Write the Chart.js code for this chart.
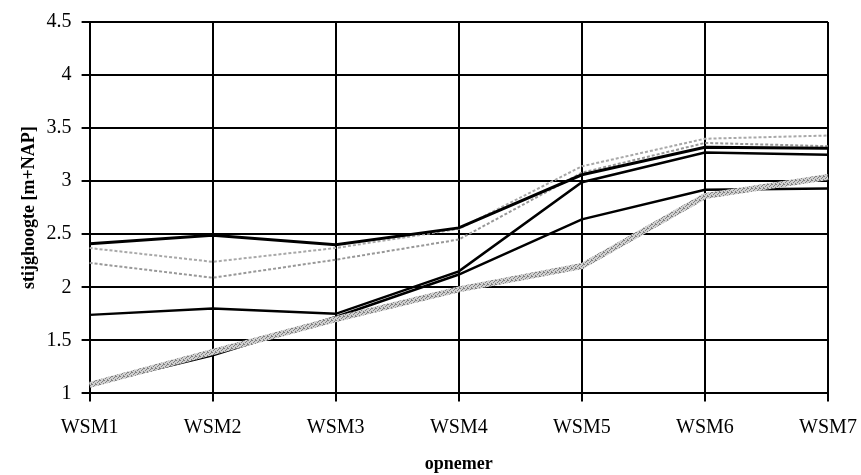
<!DOCTYPE html>
<html>
<head>
<meta charset="utf-8">
<script src="https://cdn.jsdelivr.net/npm/chart.js@4/dist/chart.umd.min.js"></script>
<style>
  html, body { margin: 0; padding: 0; background: #fff; }
  #wrap { width: 861px; height: 475px; }
</style>
</head>
<body>
<div id="wrap"><canvas id="chart"></canvas></div>
<script>
const categories = ['WSM1', 'WSM2', 'WSM3', 'WSM4', 'WSM5', 'WSM6', 'WSM7'];
const yTicks = [1, 1.5, 2, 2.5, 3, 3.5, 4, 4.5];
const yTickLabels = ['1', '1.5', '2', '2.5', '3', '3.5', '4', '4.5'];

const grayThick   = [1.08, 1.39, 1.70, 1.98, 2.20, 2.86, 3.04];
const blackTop    = [2.41, 2.49, 2.40, 2.56, 3.06, 3.32, 3.31];
const dottedUpper = [2.37, 2.24, 2.37, 2.55, 3.14, 3.40, 3.43];
const dottedLower = [2.23, 2.09, 2.26, 2.45, 3.08, 3.36, 3.33];
const blackMid    = [1.74, 1.80, 1.75, 2.15, 2.99, 3.27, 3.25];
const blackLow    = [1.08, 1.36, 1.72, 2.12, 2.64, 2.92, 2.93];

const serif = '"Liberation Serif", "Times New Roman", serif';

// speckled grey like the scanned thick line
function speckle() {
    const c = document.createElement('canvas');
    c.width = 4; c.height = 4;
    const g = c.getContext('2d');
    g.fillStyle = '#d0d0d0';
    g.fillRect(0, 0, 4, 4);
    g.fillStyle = '#808080';
    g.fillRect(0, 0, 1, 1); g.fillRect(2, 1, 1, 1); g.fillRect(1, 2, 1, 1); g.fillRect(3, 3, 1, 1);
    g.fillRect(3, 0, 1, 1);
    return g.createPattern(c, 'repeat');
}

function line(data, color, width, dash) {
    return {
        data: data,
        borderColor: color,
        borderWidth: width,
        borderDash: dash || [],
        pointRadius: 0,
        fill: false,
        tension: 0
    };
}

new Chart(document.getElementById('chart').getContext('2d'), {
    type: 'line',
    data: {
        labels: categories,
        datasets: [
            line(grayThick, speckle(), 6),
            line(blackTop, '#000', 3),
            line(dottedUpper, '#a8a8a8', 2, [3, 2]),
            line(dottedLower, '#989898', 2, [3, 2]),
            line(blackMid, '#000', 2.5),
            line(blackLow, '#000', 2.5)
        ]
    },
    options: {
        responsive: true,
        maintainAspectRatio: false,
        animation: false,
        layout: { padding: { top: 11, right: 0, left: 6, bottom: 0 } },
        plugins: {
            legend: { display: false },
            tooltip: { enabled: false }
        },
        scales: {
            x: {
                offset: false,
                afterFit: (s) => { s.paddingRight = 33; },
                border: { color: '#000', width: 2 },
                grid: { color: '#000', lineWidth: 2, tickLength: 8 },
                ticks: { color: '#000', padding: 14, maxRotation: 0, font: { family: serif, size: 20 } },
                title: {
                    display: true, text: 'opnemer', color: '#000',
                    font: { family: serif, size: 18, weight: 'bold' },
                    padding: { top: 0, bottom: 0 }
                }
            },
            y: {
                min: 1,
                max: 4.5,
                afterBuildTicks: (axis) => { axis.ticks = yTicks.map(v => ({ value: v })); },
                border: { color: '#000', width: 2 },
                grid: { color: '#000', lineWidth: 2, tickLength: 8 },
                ticks: {
                    color: '#000', padding: 10, font: { family: serif, size: 20 },
                    callback: (v, i) => yTickLabels[i]
                },
                title: {
                    display: true, text: 'stijghoogte [m+NAP]', color: '#000',
                    font: { family: serif, size: 18, weight: 'bold' },
                    padding: { top: 13, bottom: -4 }
                }
            }
        }
    }
});
</script>
</body>
</html>
